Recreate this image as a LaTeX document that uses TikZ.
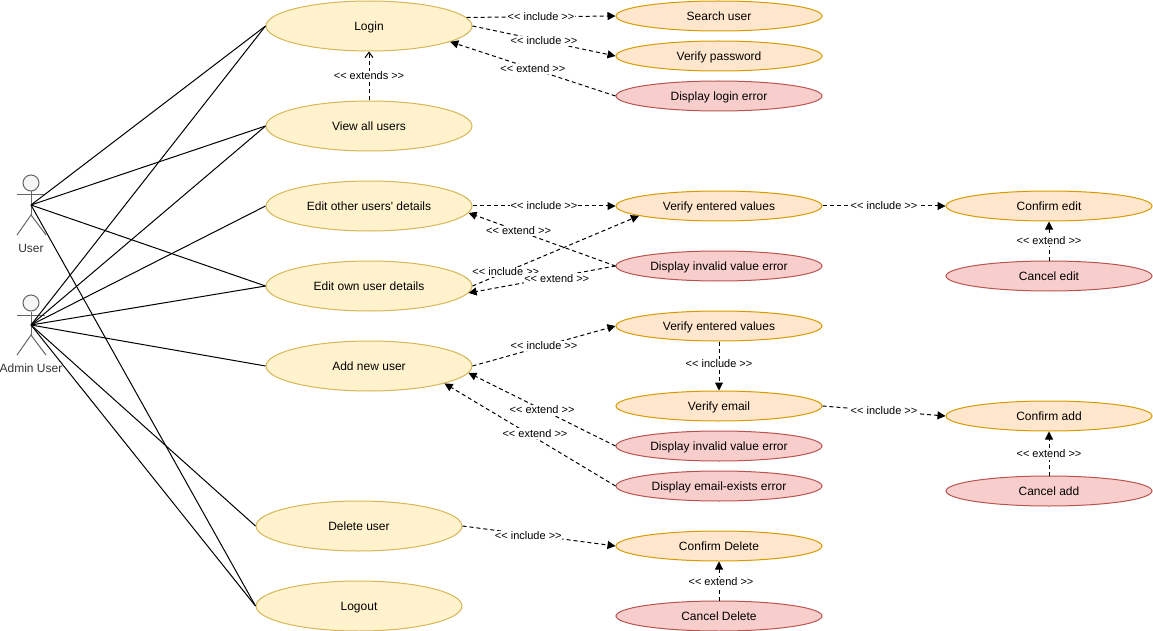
\documentclass[tikz,border=0pt]{standalone}
\usepackage{fontspec}
\setmainfont{Liberation Sans}[Ligatures=TeXOff]
\usepackage{tikz}
\usetikzlibrary{shapes.geometric}
\usetikzlibrary{arrows.meta}

\definecolor{mainfill}{HTML}{FFF2CC}
\definecolor{maindraw}{HTML}{D6B656}
\definecolor{subfill}{HTML}{FFE6CC}
\definecolor{subdraw}{HTML}{D79B00}
\definecolor{errfill}{HTML}{F8CECC}
\definecolor{errdraw}{HTML}{B85450}
\definecolor{actorfill}{HTML}{F5F5F5}
\definecolor{actordraw}{HTML}{666666}

\begin{document}
\begin{tikzpicture}[
    x=0.75pt, y=-0.75pt,
    every node/.style={font=\fontsize{9pt}{11pt}\selectfont},
    usecase/.style={ellipse, minimum width=154.5pt, minimum height=37.5pt, inner sep=0pt, line width=0.75pt, text height=8pt, text depth=1pt},
    mainuc/.style={usecase, draw=maindraw, fill=mainfill},
    subuc/.style={usecase, minimum height=22.5pt, draw=subdraw, fill=subfill},
    erruc/.style={usecase, minimum height=22.5pt, draw=errdraw, fill=errfill},
    head/.style={circle, draw=actordraw, fill=actorfill, minimum size=12pt, inner sep=0pt, line width=0.75pt},
    limb/.style={draw=actordraw, line width=0.75pt},
    assoc/.style={black, line width=0.75pt},
    dep/.style={black, line width=0.75pt, dash pattern=on 3pt off 2.25pt, -{Triangle[width=6pt,length=6pt]}},
    depopen/.style={black, line width=0.75pt, dash pattern=on 3pt off 2.25pt, -{Straight Barb[width=6pt,length=4pt]}},
    lbl/.style={fill=white, inner sep=0.5pt, text height=6pt, text depth=1pt, font=\fontsize{8.25pt}{10pt}\selectfont},
    actorlbl/.style={text=black!80}
]
    \useasboundingbox (0,0) rectangle (1153,631);

    % --- Actors ---
    \node[head] (UserHead) at (31,183) {};
    \coordinate (UserHub) at (31,205);
    \coordinate (UserHip) at (31,215);
    \coordinate (UserArmL) at (17,195);
    \coordinate (UserArmR) at (45,195);
    \coordinate (UserFootL) at (17,235);
    \coordinate (UserFootR) at (46,235);
    \draw[limb] (UserHead) -- (UserHip);
    \draw[limb] (UserArmL) -- (UserArmR);
    \draw[limb] (UserFootL) -- (UserHip) -- (UserFootR);
    \node[actorlbl] (UserLbl) at (31,248.5) {User};

    \node[head] (AdminHead) at (31,303) {};
    \coordinate (AdminHub) at (31,325);
    \coordinate (AdminHip) at (31,335);
    \coordinate (AdminArmL) at (17,315);
    \coordinate (AdminArmR) at (45,315);
    \coordinate (AdminFootL) at (17,355);
    \coordinate (AdminFootR) at (46,355);
    \draw[limb] (AdminHead) -- (AdminHip);
    \draw[limb] (AdminArmL) -- (AdminArmR);
    \draw[limb] (AdminFootL) -- (AdminHip) -- (AdminFootR);
    \node[actorlbl] (AdminLbl) at (31,368.5) {Admin User};

    % --- Main use cases ---
    \node[mainuc] (Login)     at (369,26)  {Login};
    \node[mainuc] (ViewAll)   at (369,126) {View all users};
    \node[mainuc] (EditOther) at (369,206) {Edit other users' details};
    \node[mainuc] (EditOwn)   at (369,286) {Edit own user details};
    \node[mainuc] (AddUser)   at (369,366) {Add new user};
    \node[mainuc] (DelUser)   at (359,526) {Delete user};
    \node[mainuc] (Logout)    at (359,606) {Logout};

    % --- Middle column ---
    \node[subuc] (Search)   at (719,16)  {Search user};
    \node[subuc] (VerifyPw) at (719,56)  {Verify password};
    \node[erruc] (ErrLogin) at (719,96)  {Display login error};
    \node[subuc] (VerifyA)  at (719,206) {Verify entered values};
    \node[erruc] (ErrEdit)  at (719,266) {Display invalid value error};
    \node[subuc] (VerifyB)  at (719,326) {Verify entered values};
    \node[subuc] (VerifyEm) at (719,406) {Verify email};
    \node[erruc] (ErrAdd)   at (719,446) {Display invalid value error};
    \node[erruc] (ErrEmail) at (719,486) {Display email-exists error};
    \node[subuc] (ConfDel)  at (719,546) {Confirm Delete};
    \node[erruc] (CancDel)  at (719,616) {Cancel Delete};

    % --- Right column ---
    \node[subuc] (ConfEdit) at (1049,206) {Confirm edit};
    \node[erruc] (CancEdit) at (1049,276) {Cancel edit};
    \node[subuc] (ConfAdd)  at (1049,416) {Confirm add};
    \node[erruc] (CancAdd)  at (1049,491) {Cancel add};

    % --- Actor associations ---
    \draw[assoc] (UserHub) -- (Login.west);
    \draw[assoc] (UserHub) -- (ViewAll.west);
    \draw[assoc] (UserHub) -- (EditOwn.west);
    \draw[assoc] (UserHub) -- (Logout.west);
    \draw[assoc] (AdminHub) -- (Login.west);
    \draw[assoc] (AdminHub) -- (ViewAll.west);
    \draw[assoc] (AdminHub) -- (EditOther.west);
    \draw[assoc] (AdminHub) -- (EditOwn.west);
    \draw[assoc] (AdminHub) -- (AddUser.west);
    \draw[assoc] (AdminHub) -- (DelUser.west);
    \draw[assoc] (AdminHub) -- (Logout.west);

    % --- Login ---
    \draw[dep] (Login.5) -- node[lbl] {<< include >>} (Search.west);
    \draw[dep] (Login.east) -- node[lbl] {<< include >>} (VerifyPw.west);
    \draw[dep] (ErrLogin.west) -- node[lbl] {<< extend >>} (Login.-11);
    \draw[depopen] (ViewAll.north) -- node[lbl] {<< extends >>} (Login.south);

    % --- Edit ---
    \draw[dep] (EditOther.east) -- node[lbl] {<< include >>} (VerifyA.west);
    \draw[dep] (ErrEdit.west) -- node[lbl, pos=.66] {<< extend >>} (EditOther.-4);
    \draw[dep] (EditOwn.east) -- node[lbl, pos=.2] {<< include >>} (VerifyA.187);
    \draw[dep] (ErrEdit.west) -- node[lbl, pos=.4, yshift=-1.5pt] {<< extend >>} (EditOwn.-4);
    \draw[dep] (VerifyA.east) -- node[lbl] {<< include >>} (ConfEdit.west);
    \draw[dep] (CancEdit.north) -- node[lbl] {<< extend >>} (ConfEdit.south);

    % --- Add ---
    \draw[dep] (AddUser.east) -- node[lbl] {<< include >>} (VerifyB.west);
    \draw[dep] (VerifyB.south) -- node[lbl, pos=.44, yshift=-0.75pt] {<< include >>} (VerifyEm.north);
    \draw[dep] (VerifyEm.east) -- node[lbl] {<< include >>} (ConfAdd.west);
    \draw[dep] (CancAdd.north) -- node[lbl, yshift=-0.75pt] {<< extend >>} (ConfAdd.south);
    \draw[dep] (ErrAdd.west) -- node[lbl, yshift=-0.75pt] {<< extend >>} (AddUser.-4);
    \draw[dep] (ErrEmail.west) -- node[lbl, pos=.51, xshift=5pt] {<< extend >>} (AddUser.-13);

    % --- Delete ---
    \draw[dep] (DelUser.east) -- node[lbl, pos=.43, yshift=-1pt] {<< include >>} (ConfDel.west);
    \draw[dep] (CancDel.north) -- node[lbl, xshift=1.5pt, yshift=-0.75pt] {<< extend >>} (ConfDel.south);

\end{tikzpicture}
\end{document}
